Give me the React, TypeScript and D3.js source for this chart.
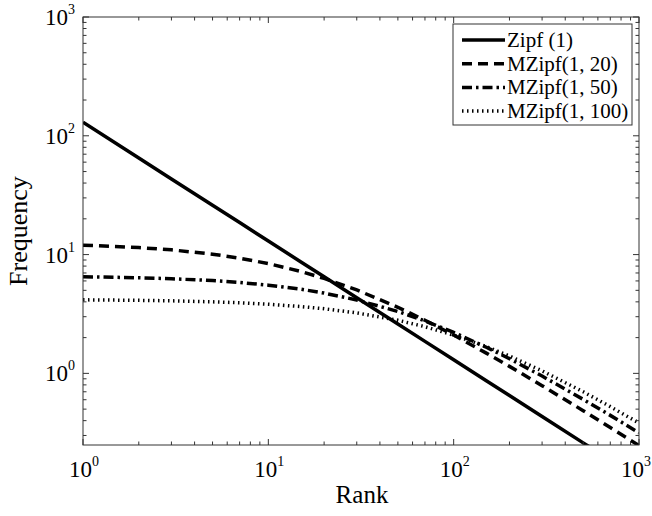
import React, { useEffect, useRef } from 'react';
import * as d3 from 'd3';

// ranks sampled along the curves
const ranks = [1, 2, 3, 5, 7, 10, 15, 20, 30, 50, 70, 100, 150, 200, 300, 500, 700, 1000];

const zipf = [130, 65, 43.3, 26, 18.6, 13, 8.67, 6.5, 4.33, 2.6, 1.86, 1.3, 0.867, 0.65, 0.433, 0.26, 0.186, 0.13];
const mzipf20 = [12.0, 11.45, 10.96, 10.08, 9.33, 8.4, 7.2, 6.3, 5.04, 3.6, 2.8, 2.1, 1.48, 1.145, 0.788, 0.485, 0.35, 0.247];
const mzipf50 = [6.51, 6.38, 6.26, 6.04, 5.82, 5.53, 5.11, 4.74, 4.15, 3.32, 2.77, 2.21, 1.66, 1.33, 0.949, 0.604, 0.443, 0.316];
const mzipf100 = [4.16, 4.12, 4.08, 4.0, 3.93, 3.82, 3.65, 3.5, 3.23, 2.8, 2.47, 2.1, 1.68, 1.4, 1.05, 0.7, 0.525, 0.382];

const seriesNames = ['Zipf (1)', 'MZipf(1, 20)', 'MZipf(1, 50)', 'MZipf(1, 100)'];
const seriesData = [zipf, mzipf20, mzipf50, mzipf100];
const dashes = ['none', '10,6', '10,4,2.5,4', '1.5,3.5'];

const xDecades = [0, 1, 2, 3];
const yDecades = [0, 1, 2, 3];

export default function App() {
  const ref = useRef<SVGSVGElement>(null);

  useEffect(() => {
    const svg = d3.select(ref.current);
    svg.selectAll('*').remove();

    const left = 83, right = 639, top = 17, bottom = 445;
    const x = d3.scaleLog().domain([1, 1000]).range([left, right]);
    const y = d3.scaleLog().domain([Math.pow(10, -0.603), 1000]).range([bottom, top]);
    const font = '"Liberation Serif", "Times New Roman", serif';

    svg.append('defs').append('clipPath').attr('id', 'plotclip')
      .append('rect').attr('x', left).attr('y', top).attr('width', right - left).attr('height', bottom - top);

    const line = d3.line<number>()
      .x((d, i) => x(ranks[i]))
      .y(d => y(d));

    const g = svg.append('g').attr('clip-path', 'url(#plotclip)');
    seriesData.forEach((s, k) => {
      g.append('path')
        .attr('d', line(s))
        .attr('fill', 'none')
        .attr('stroke', '#000')
        .attr('stroke-width', 3.5)
        .attr('stroke-dasharray', dashes[k]);
    });

    // frame
    const axisColor = '#333';
    svg.append('rect').attr('x', left).attr('y', top).attr('width', right - left).attr('height', bottom - top)
      .attr('fill', 'none').attr('stroke', axisColor).attr('stroke-width', 1);

    // ticks (inward, all four sides)
    const xTicks: { v: number; major: boolean }[] = [];
    for (let e = 0; e < 3; e++) for (let m = 1; m < 10; m++) xTicks.push({ v: m * Math.pow(10, e), major: m === 1 });
    xTicks.push({ v: 1000, major: true });
    const yTicks: { v: number; major: boolean }[] = [];
    for (let e = -1; e < 3; e++) for (let m = 1; m < 10; m++) {
      const v = m * Math.pow(10, e);
      if (v >= y.domain()[0]) yTicks.push({ v, major: m === 1 });
    }
    yTicks.push({ v: 1000, major: true });

    const tk = svg.append('g').attr('stroke', axisColor).attr('stroke-width', 1);
    xTicks.forEach(t => {
      const px = x(t.v);
      const len = t.major ? 6 : 3.5;
      tk.append('line').attr('x1', px).attr('x2', px).attr('y1', bottom).attr('y2', bottom - len);
      tk.append('line').attr('x1', px).attr('x2', px).attr('y1', top).attr('y2', top + len);
    });
    yTicks.forEach(t => {
      const py = y(t.v);
      const len = t.major ? 6 : 3.5;
      tk.append('line').attr('y1', py).attr('y2', py).attr('x1', left).attr('x2', left + len);
      tk.append('line').attr('y1', py).attr('y2', py).attr('x1', right).attr('x2', right - len);
    });

    // tick labels (last one kept inside the page edge)
    xDecades.forEach((e, i) => {
      const last = i === xDecades.length - 1;
      const t = svg.append('text')
        .attr('x', last ? 651 : x(Math.pow(10, e)) + 1).attr('y', 477)
        .attr('text-anchor', last ? 'end' : 'middle')
        .attr('font-family', font).attr('font-size', 23).attr('fill', '#000');
      t.append('tspan').text('10');
      t.append('tspan').attr('dy', -11).attr('font-size', 14).text(String(e));
    });
    yDecades.forEach(e => {
      const t = svg.append('text').attr('x', 75).attr('y', y(Math.pow(10, e)) + 8)
        .attr('text-anchor', 'end').attr('font-family', font).attr('font-size', 23).attr('fill', '#000');
      t.append('tspan').text('10');
      t.append('tspan').attr('dy', -11).attr('font-size', 14).text(String(e));
    });

    // axis titles
    svg.append('text').attr('x', (left + right) / 2 + 1).attr('y', 503).attr('text-anchor', 'middle')
      .attr('font-family', font).attr('font-size', 25).text('Rank');
    svg.append('text').attr('transform', `translate(27,${(top + bottom) / 2}) rotate(-90)`)
      .attr('text-anchor', 'middle').attr('font-family', font).attr('font-size', 26).text('Frequency');

    // legend
    const lg = svg.append('g');
    lg.append('rect').attr('x', 453).attr('y', 24).attr('width', 179).attr('height', 101)
      .attr('fill', '#fff').attr('stroke', axisColor).attr('stroke-width', 1);
    seriesNames.forEach((name, k) => {
      const ly = 40 + k * 23.7;
      lg.append('line').attr('x1', 462).attr('x2', 505).attr('y1', ly).attr('y2', ly)
        .attr('stroke', '#000').attr('stroke-width', 3.5).attr('stroke-dasharray', dashes[k]);
      lg.append('text').attr('x', 507).attr('y', ly + 7).attr('font-family', font).attr('font-size', 21)
        .attr('fill', '#000').text(name);
    });
  }, []);

  return (
    <svg ref={ref} width={652} height={516}
      style={{ position: 'absolute', left: 0, top: 0, background: '#fff' }} />
  );
}
